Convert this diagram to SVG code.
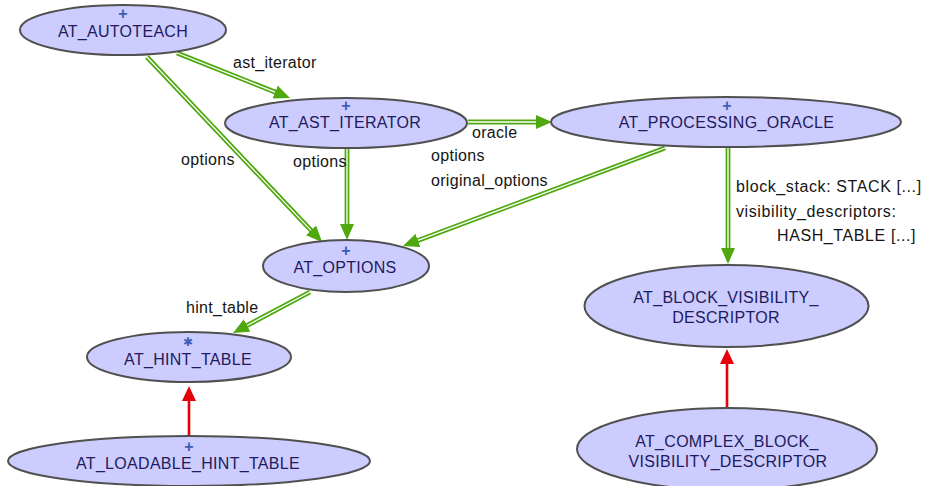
<svg xmlns="http://www.w3.org/2000/svg" width="925" height="486" viewBox="0 0 925 486">
  <style>
    .node ellipse { fill: #ccccff; stroke: #505050; stroke-width: 2; }
    .name { font-family: "Liberation Sans", Arial, sans-serif; font-size: 16px; letter-spacing: 0.3px; fill: #221a5c; text-anchor: middle; }
    .mark { font-family: "Liberation Sans", Arial, sans-serif; font-weight: bold; font-size: 16px; fill: #3b5fb4; text-anchor: middle; }
    .star { font-family: "DejaVu Sans", sans-serif; fill: #3b5fb4; text-anchor: middle; }
    .lbl { font-family: "Liberation Sans", Arial, sans-serif; font-size: 16px; letter-spacing: 0.3px; fill: #151515; }
    .attr { letter-spacing: 0.6px; }
    .sup { fill: none; stroke: #4ea80e; stroke-width: 4.8; marker-end: url(#headG); }
    .sup-in { fill: none; stroke: #ffffff; stroke-width: 1.3; }
    .inh { fill: none; stroke: #e6000a; stroke-width: 2.6; marker-end: url(#headR); }
  </style>
  <defs>
    <marker id="headG" markerUnits="userSpaceOnUse" viewBox="0 0 16 14" markerWidth="16" markerHeight="14" refX="10" refY="7" orient="auto">
      <path d="M0,0 L16,7 L0,14 z" fill="#4ea80e"/>
    </marker>
    <marker id="headR" markerUnits="userSpaceOnUse" viewBox="0 0 15 14" markerWidth="15" markerHeight="14" refX="9" refY="7" orient="auto">
      <path d="M0,0 L15,7 L0,14 z" fill="#e6000a"/>
    </marker>
  </defs>

  <!-- client (double line) and inheritance (single red line) relations -->
  <g id="connectors">
    <path class="sup" d="M177,53 L284.4,95.8"/>
    <path class="sup-in" d="M177,53 L275.1,92.1"/>

    <path class="sup" d="M147,57 L317.9,237.6"/>
    <path class="sup-in" d="M147,57 L311,230.4"/>

    <path class="sup" d="M347,148 L347,234"/>
    <path class="sup-in" d="M347,148 L347,224"/>

    <path class="sup" d="M468,122 L546,122"/>
    <path class="sup-in" d="M468,122 L536,122"/>

    <path class="sup" d="M665,148 L408.6,243.9"/>
    <path class="sup-in" d="M665,148 L418,240.4"/>

    <path class="sup" d="M728,148 L728,258"/>
    <path class="sup-in" d="M728,148 L728,248"/>

    <path class="sup" d="M310,292 L238.3,330.2"/>
    <path class="sup-in" d="M310,292 L247.1,325.5"/>

    <path class="inh" d="M189,437 L189,392"/>
    <path class="inh" d="M727,408 L727,355"/>

    <text class="lbl" x="233" y="68">ast_iterator</text>
    <text class="lbl" x="181" y="165">options</text>
    <text class="lbl" x="293" y="167">options</text>
    <text class="lbl" x="472" y="138">oracle</text>
    <text class="lbl" x="431" y="161">options</text>
    <text class="lbl" x="431" y="186">original_options</text>
    <text class="lbl attr" x="736" y="192">block_stack: STACK [...]</text>
    <text class="lbl attr" x="736" y="217">visibility_descriptors:</text>
    <text class="lbl attr" x="777" y="241">HASH_TABLE [...]</text>
    <text class="lbl" x="186" y="313">hint_table</text>
  </g>

  <g id="AT_AUTOTEACH" class="node">
    <ellipse cx="123" cy="30" rx="103" ry="25"/>
    <text class="mark" x="123" y="19">+</text>
    <text class="name" x="123" y="37">AT_AUTOTEACH</text>
  </g>

  <g id="AT_AST_ITERATOR" class="node">
    <ellipse cx="346" cy="123" rx="121" ry="25"/>
    <text class="mark" x="346" y="111">+</text>
    <text class="name" x="345" y="128">AT_AST_ITERATOR</text>
  </g>

  <g id="AT_PROCESSING_ORACLE" class="node">
    <ellipse cx="726" cy="122" rx="175" ry="25"/>
    <text class="mark" x="727" y="111">+</text>
    <text class="name" x="726.5" y="128">AT_PROCESSING_ORACLE</text>
  </g>

  <g id="AT_OPTIONS" class="node">
    <ellipse cx="346" cy="266" rx="83" ry="26"/>
    <text class="mark" x="346" y="256">+</text>
    <text class="name" x="345" y="273">AT_OPTIONS</text>
  </g>

  <g id="AT_HINT_TABLE" class="node">
    <ellipse cx="189" cy="357" rx="102" ry="25"/>
    <text class="star" x="188" y="346" font-size="12">✱</text>
    <text class="name" x="188" y="365">AT_HINT_TABLE</text>
  </g>

  <g id="AT_LOADABLE_HINT_TABLE" class="node">
    <ellipse cx="189" cy="461" rx="181" ry="25"/>
    <text class="mark" x="189" y="452">+</text>
    <text class="name" x="188" y="469">AT_LOADABLE_HINT_TABLE</text>
  </g>

  <g id="AT_BLOCK_VISIBILITY_DESCRIPTOR" class="node">
    <ellipse cx="726.5" cy="306" rx="142" ry="41"/>
    <text class="name" x="726" y="303">AT_BLOCK_VISIBILITY_</text>
    <text class="name" x="726" y="323">DESCRIPTOR</text>
  </g>

  <g id="AT_COMPLEX_BLOCK_VISIBILITY_DESCRIPTOR" class="node">
    <ellipse cx="727" cy="449" rx="150" ry="41"/>
    <text class="name" x="727" y="447">AT_COMPLEX_BLOCK_</text>
    <text class="name" x="728" y="467">VISIBILITY_DESCRIPTOR</text>
  </g>
</svg>
